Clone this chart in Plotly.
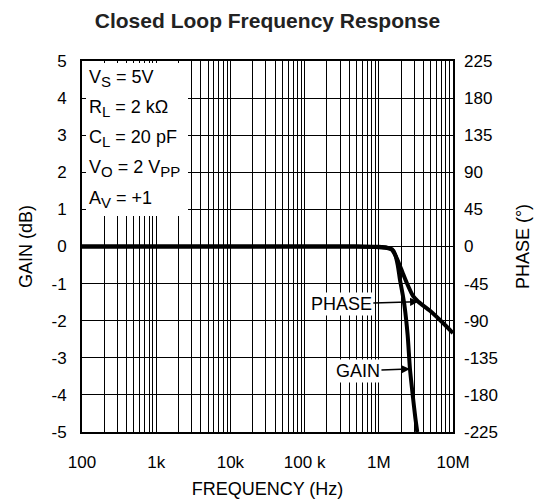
import plotly.graph_objects as go
import numpy as np

# Closed-loop response data (frequency in Hz)
gain_freq = [100, 1e3, 1e4, 1e5, 5e5, 1.0e6, 1.3e6, 1.5e6, 1.65e6, 1.8e6, 1.93e6, 2.1e6, 2.22e6, 2.45e6, 2.63e6, 2.9e6, 3.1e6, 3.3e6]
gain_db = [0, 0, 0, 0, 0, -0.01, -0.03, -0.07, -0.2, -0.5, -0.9, -1.3, -1.6, -2.4, -3.3, -4.1, -4.6, -5.0]

phase_freq = [100, 1e3, 1e4, 1e5, 5e5, 1.0e6, 1.3e6, 1.5e6, 1.7e6, 1.9e6, 2.1e6, 2.38e6, 2.89e6, 3.41e6, 4.9e6, 7e6, 1e7]
phase_deg = [0, 0, 0, 0, 0, -1, -2, -4, -12, -22, -32, -44, -60, -67, -78, -91, -105]

gain_ticks = [5, 4, 3, 2, 1, 0, -1, -2, -3, -4, -5]
phase_ticks = [225, 180, 135, 90, 45, 0, -45, -90, -135, -180, -225]
freq_ticks = [100, 1e3, 1e4, 1e5, 1e6, 1e7]
freq_labels = ["100", "1k", "10k", "100 k", "1M", "10M"]


def sub(s):
    return '<sub><span style="font-size:15px">' + s + '</span></sub>'


conditions = [
    "V" + sub("S") + " = 5V",
    "R" + sub("L") + " = 2 kΩ",
    "C" + sub("L") + " = 20 pF",
    "V" + sub("O") + " = 2 V" + sub("PP"),
    "A" + sub("V") + " = +1",
]

FONT = "Liberation Sans, Arial, sans-serif"
PLOT_H = 501 - 61 - 69
PLOT_W = 541 - 82 - 88

# minor grid at the 2..9 steps of each decade
minor_vals = [m * 10 ** d for d in range(2, 7) for m in range(2, 10)]

fig = go.Figure()
fig.add_trace(go.Scatter(x=gain_freq, y=gain_db, mode="lines",
                         line=dict(color="black", width=4, shape="spline", smoothing=0.6),
                         showlegend=False, yaxis="y"))
fig.add_trace(go.Scatter(x=phase_freq, y=phase_deg, mode="lines",
                         line=dict(color="black", width=4, shape="spline", smoothing=0.6),
                         showlegend=False, yaxis="y2"))

# white panel behind the operating conditions
fig.add_annotation(text=" ", xref="paper", yref="paper",
                   x=4 / PLOT_W, y=1 - 1.5 / PLOT_H, xanchor="left", yanchor="top",
                   width=102, height=153, bgcolor="white", borderpad=0, borderwidth=0,
                   showarrow=False)

for i, t in enumerate(conditions):
    fig.add_annotation(text=t, xref="paper", yref="paper",
                       x=5 / PLOT_W, y=1 - (17 + i * 30.3) / PLOT_H,
                       xanchor="left", yanchor="middle", showarrow=False,
                       font=dict(family=FONT, size=18, color="black"))

# curve callouts
ph_x = 3.41e6
ph_y = float(np.interp(np.log10(ph_x), np.log10(phase_freq), phase_deg)) / 45.0
fig.add_annotation(text="PHASE", x=np.log10(ph_x), y=ph_y, xref="x", yref="y",
                   ax=-77, ay=2, showarrow=True, arrowhead=2, arrowsize=1.1, arrowwidth=1.5,
                   arrowcolor="black", bgcolor="white", borderpad=1,
                   font=dict(family=FONT, size=18, color="black"))
g_x = 2.63e6
g_y = float(np.interp(np.log10(g_x), np.log10(gain_freq), gain_db))
fig.add_annotation(text="GAIN", x=np.log10(g_x), y=g_y, xref="x", yref="y",
                   ax=-52, ay=2, showarrow=True, arrowhead=2, arrowsize=1.1, arrowwidth=1.5,
                   arrowcolor="black", bgcolor="white", borderpad=1,
                   font=dict(family=FONT, size=18, color="black"))

fig.update_layout(
    width=541, height=501,
    margin=dict(l=82, r=88, t=61, b=69),
    paper_bgcolor="white", plot_bgcolor="white",
    font=dict(family=FONT, size=17, color="black"),
    title=dict(text="<b>Closed Loop Frequency Response</b>", x=0.5, xref="paper", xanchor="center",
               y=1 - 21 / 501, yanchor="middle",
               font=dict(family=FONT, size=21, color="#222222")),
    xaxis=dict(type="log", range=[2, 7], tickvals=freq_ticks, ticktext=freq_labels,
               showgrid=True, gridcolor="black", gridwidth=1.1, automargin=False,
               minor=dict(tickvals=minor_vals, showgrid=True, gridcolor="black", gridwidth=1.1, ticks=""),
               showline=True, linecolor="black", linewidth=2, mirror=True,
               ticks="", ticklabelstandoff=14, zeroline=False,
               tickfont=dict(size=17),
               title=dict(text="FREQUENCY (Hz)", standoff=11, font=dict(size=18))),
    yaxis=dict(range=[-5, 5], tickvals=gain_ticks, ticktext=[str(v) for v in gain_ticks],
               showgrid=True, gridcolor="black", gridwidth=1.1, zeroline=False, automargin=False,
               showline=True, linecolor="black", linewidth=2, mirror=True,
               ticks="inside", ticklen=4, tickcolor="black", ticklabelstandoff=10,
               tickfont=dict(size=17),
               title=dict(text="GAIN (dB)", standoff=14, font=dict(size=18))),
    yaxis2=dict(range=[-225, 225], tickvals=phase_ticks, ticktext=[str(v) for v in phase_ticks],
                overlaying="y", side="right", showgrid=False, zeroline=False, automargin=False,
                ticks="", ticklabelstandoff=10, tickfont=dict(size=17),
                title=dict(text="PHASE (°)", standoff=19, font=dict(size=18))),
)

fig.write_html("out.html")
